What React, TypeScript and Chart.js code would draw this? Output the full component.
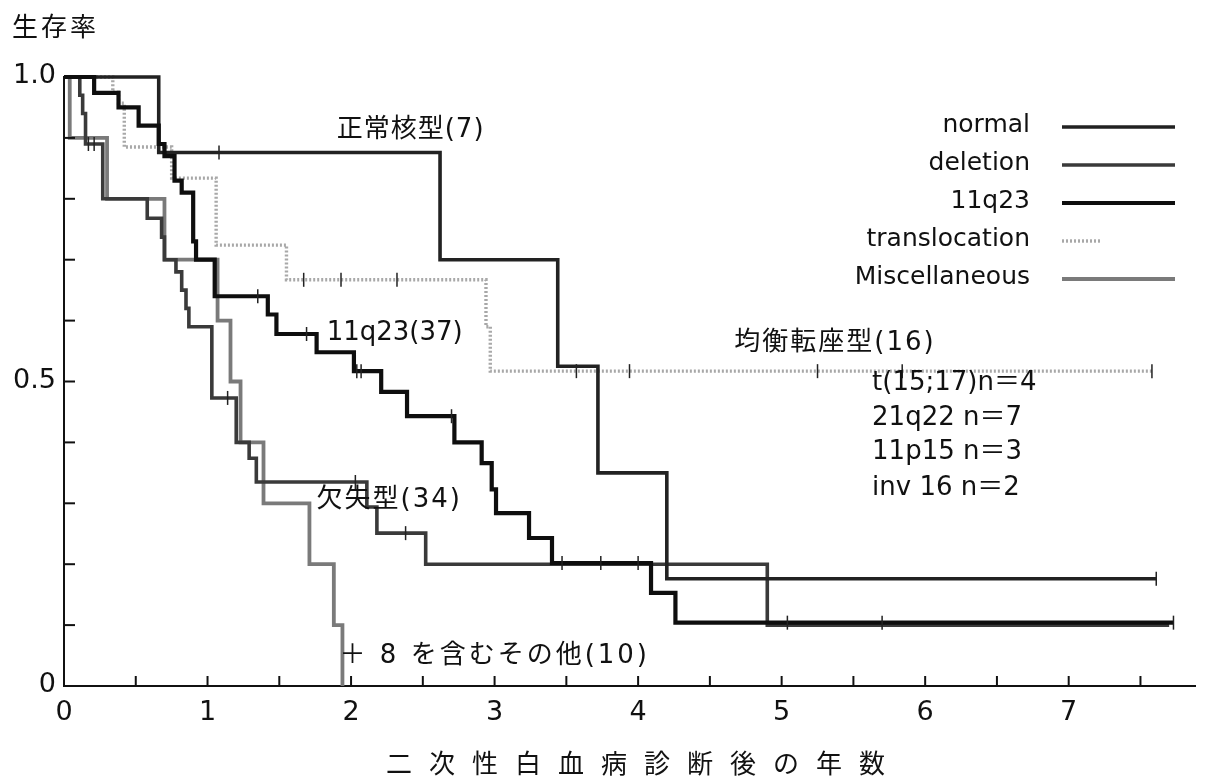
import React, { useEffect, useRef } from "react";
import { Chart, registerables } from "chart.js";

Chart.register(...registerables);

// ---- data ----
const seriesNames = ["normal", "deletion", "11q23", "translocation", "Miscellaneous"];

const normalTimes = [0, 0.66, 2.62, 3.44, 3.72, 4.2, 7.61];
const normalSurv = [1.0, 0.876, 0.7, 0.525, 0.35, 0.176, 0.176];
const normalCensor = [1.08, 7.61];

const deletionTimes = [0, 0.11, 0.13, 0.15, 0.27, 0.58, 0.68, 0.7, 0.78, 0.82, 0.85, 0.87, 1.03, 1.2, 1.29, 1.34, 2.11, 2.18, 2.52, 4.9, 7.7];
const deletionSurv = [1.0, 0.97, 0.94, 0.89, 0.8, 0.768, 0.737, 0.7, 0.68, 0.65, 0.62, 0.59, 0.473, 0.4, 0.374, 0.335, 0.294, 0.251, 0.2, 0.1, 0.1];
const deletionCensor = [0.17, 0.21, 1.14, 2.03, 2.38];

const q23Times = [0, 0.21, 0.38, 0.52, 0.66, 0.7, 0.77, 0.82, 0.9, 0.92, 1.05, 1.42, 1.48, 1.76, 2.02, 2.21, 2.39, 2.72, 2.91, 2.98, 3.01, 3.24, 3.4, 4.09, 4.26, 7.73];
const q23Surv = [1.0, 0.974, 0.95, 0.92, 0.89, 0.87, 0.83, 0.81, 0.73, 0.7, 0.64, 0.61, 0.578, 0.548, 0.517, 0.483, 0.443, 0.4, 0.366, 0.323, 0.284, 0.243, 0.202, 0.153, 0.104, 0.104];
const q23Censor = [1.35, 1.69, 2.04, 2.07, 2.7, 3.47, 3.74, 4.0, 5.04, 5.7, 7.73];

const transTimes = [0, 0.34, 0.38, 0.42, 0.75, 1.06, 1.55, 2.94, 2.97, 7.58];
const transSurv = [1.0, 0.975, 0.957, 0.885, 0.834, 0.724, 0.667, 0.59, 0.517, 0.517];
const transCensor = [1.67, 1.93, 2.32, 3.57, 3.94, 5.25, 5.84, 7.58];

const miscTimes = [0, 0.04, 0.3, 0.7, 1.07, 1.16, 1.23, 1.39, 1.71, 1.88, 1.94];
const miscSurv = [1.0, 0.9, 0.8, 0.7, 0.6, 0.5, 0.4, 0.3, 0.2, 0.1, 0.0];

const xTickLabels = ["0", "1", "2", "3", "4", "5", "6", "7"];
const yTickLabels: Record<number, string> = { 0: "0", 5: "0.5", 10: "1.0" };

const yTitle = "生存率";
const xTitle = "二次性白血病診断後の年数";

// text annotations placed in data coordinates (years, survival)
const annotations = [
  { text: "正常核型(7)", x: 1.9, y: 0.913, spacing: 1 },
  { text: "11q23(37)", x: 1.83, y: 0.58, spacing: 0 },
  { text: "均衡転座型(16)", x: 4.67, y: 0.563, spacing: 2 },
  { text: "t(15;17)n＝4", x: 5.63, y: 0.497, spacing: 0 },
  { text: "21q22 n＝7", x: 5.63, y: 0.44, spacing: 0 },
  { text: "11p15 n＝3", x: 5.63, y: 0.384, spacing: 0 },
  { text: "inv 16 n＝2", x: 5.63, y: 0.325, spacing: 0 },
  { text: "欠失型(34)", x: 1.76, y: 0.305, spacing: 2 },
  { text: "＋ 8 を含むその他(10)", x: 1.92, y: 0.049, spacing: 3 },
];

const FONT = '"DejaVu Sans", "Noto Sans CJK JP", sans-serif';

function toPoints(times: number[], surv: number[]) {
  return times.map((t, i) => ({ x: t, y: surv[i] }));
}
function survAt(times: number[], surv: number[], t: number) {
  let s = surv[0];
  for (let i = 0; i < times.length; i++) if (times[i] <= t + 1e-9) s = surv[i];
  return s;
}
function censorPoints(times: number[], surv: number[], cens: number[]) {
  return cens.map((t) => ({ x: t, y: survAt(times, surv, t) }));
}

const styles = [
  { color: "#222222", width: 3.6, dash: [] as number[] },
  { color: "#3a3a3a", width: 3.6, dash: [] as number[] },
  { color: "#0e0e0e", width: 4.2, dash: [] as number[] },
  { color: "#a8a8a8", width: 3.4, dash: [2, 2] },
  { color: "#7a7a7a", width: 3.8, dash: [] as number[] },
];

const overlayPlugin = {
  id: "overlay",
  afterDraw(chart: any) {
    const { ctx, chartArea, scales } = chart;
    const xs = scales.x;
    const ys = scales.y;
    ctx.save();
    // inner tick marks + tick labels
    ctx.strokeStyle = "#111";
    ctx.lineWidth = 2;
    ctx.setLineDash([]);
    ctx.fillStyle = "#111";
    ctx.font = `27px ${FONT}`;
    ctx.textAlign = "center";
    ctx.textBaseline = "middle";
    xs.ticks.forEach((t: any) => {
      const px = xs.getPixelForValue(t.value);
      const k = Math.round(t.value * 2);
      if (k % 2 === 0 && k / 2 < xTickLabels.length) {
        ctx.fillText(xTickLabels[k / 2], px, chartArea.bottom + 27);
      }
      if (t.value <= 0) return;
      ctx.beginPath();
      ctx.moveTo(px, chartArea.bottom);
      ctx.lineTo(px, chartArea.bottom - 10);
      ctx.stroke();
    });
    ctx.textAlign = "right";
    ys.ticks.forEach((t: any) => {
      const k = Math.round(t.value * 10);
      const py = ys.getPixelForValue(t.value);
      if (yTickLabels[k] !== undefined) {
        ctx.fillText(yTickLabels[k], chartArea.left - 8, py - 1);
      }
      if (k <= 0 || k >= 10) return;
      ctx.beginPath();
      ctx.moveTo(chartArea.left, py);
      ctx.lineTo(chartArea.left + 11, py);
      ctx.stroke();
    });

    ctx.textAlign = "left";
    ctx.font = `26px ${FONT}`;
    annotations.forEach((a) => {
      (ctx as any).letterSpacing = `${a.spacing}px`;
      ctx.fillText(a.text, xs.getPixelForValue(a.x), ys.getPixelForValue(a.y));
    });

    // axis titles
    (ctx as any).letterSpacing = "3px";
    ctx.fillText(yTitle, 12, 29);
    (ctx as any).letterSpacing = "17px";
    ctx.fillText(xTitle, 386, 766);
    (ctx as any).letterSpacing = "0px";

    // legend
    ctx.font = `25px ${FONT}`;
    const legendRight = 1030;
    const legendLineStart = 1062;
    const legendLineEnd = 1175;
    const legendTop = 125;
    const legendGap = 38;
    ctx.textAlign = "right";
    seriesNames.forEach((name, i) => {
      const y = legendTop + i * legendGap;
      ctx.fillStyle = "#111";
      ctx.fillText(name, legendRight, y);
      const st = styles[i];
      ctx.strokeStyle = st.color;
      ctx.lineWidth = st.width;
      ctx.setLineDash(st.dash);
      ctx.beginPath();
      ctx.moveTo(legendLineStart, y + 2);
      ctx.lineTo(i === 3 ? legendLineStart + 38 : legendLineEnd, y + 2);
      ctx.stroke();
    });
    ctx.restore();
  },
};

export default function App() {
  const ref = useRef<HTMLCanvasElement | null>(null);
  useEffect(() => {
    document.body.style.margin = "0";
    const canvas = ref.current;
    if (!canvas) return;
    const curves = [
      { t: normalTimes, s: normalSurv, c: normalCensor, i: 0 },
      { t: deletionTimes, s: deletionSurv, c: deletionCensor, i: 1 },
      { t: q23Times, s: q23Surv, c: q23Censor, i: 2 },
      { t: transTimes, s: transSurv, c: transCensor, i: 3 },
      { t: miscTimes, s: miscSurv, c: [] as number[], i: 4 },
    ];
    const order = [3, 4, 1, 0, 2];
    const datasets: any[] = [];
    order.forEach((idx) => {
      const cv = curves[idx];
      const st = styles[idx];
      datasets.push({
        label: seriesNames[idx],
        data: toPoints(cv.t, cv.s),
        stepped: "before",
        borderColor: st.color,
        borderWidth: st.width,
        borderDash: st.dash,
        pointRadius: 0,
        fill: false,
        clip: false,
        order: 10 - datasets.length,
      });
    });
    order.forEach((idx) => {
      const cv = curves[idx];
      if (!cv.c.length) return;
      datasets.push({
        label: seriesNames[idx] + " censored",
        data: censorPoints(cv.t, cv.s, cv.c),
        showLine: false,
        pointStyle: "line",
        pointRotation: 90,
        pointRadius: 7,
        pointBorderWidth: 1.5,
        pointBorderColor: "#222",
        pointBackgroundColor: "#222",
        clip: false,
        order: 0,
      });
    });

    const chart = new Chart(canvas, {
      type: "line",
      data: { datasets },
      options: {
        responsive: false,
        animation: false,
        events: [],
        layout: { padding: { left: 64, top: 77, right: 15, bottom: 95 } },
        plugins: { legend: { display: false }, tooltip: { enabled: false } },
        scales: {
          x: {
            type: "linear",
            min: 0,
            max: 7.88,
            afterFit: (s: any) => { s.height = 0; },
            afterBuildTicks: (s: any) => {
              const arr = [];
              for (let k = 0; k <= 15; k++) arr.push({ value: k * 0.5 });
              s.ticks = arr;
            },
            ticks: { display: false, autoSkip: false },
            grid: { display: false, drawTicks: false },
            border: { display: true, color: "#111", width: 2 },
          },
          y: {
            type: "linear",
            min: 0,
            max: 1,
            afterFit: (s: any) => { s.width = 0; },
            ticks: { display: false, stepSize: 0.1, autoSkip: false },
            grid: { display: false, drawTicks: false },
            border: { display: true, color: "#111", width: 2 },
          },
        },
      },
      plugins: [overlayPlugin],
    });
    return () => chart.destroy();
  }, []);
  return (
    <div style={{ position: "fixed", left: 0, top: 0, width: 1210, height: 781, background: "#fff" }}>
      <canvas ref={ref} width={1210} height={781} style={{ display: "block", width: 1210, height: 781 }} />
    </div>
  );
}
